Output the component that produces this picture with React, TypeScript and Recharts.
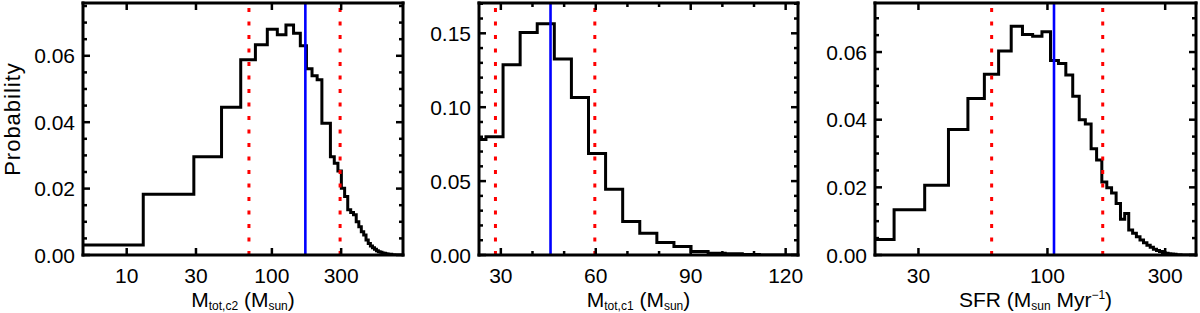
import React from 'react';
import { ComposedChart, Line, XAxis, YAxis, ReferenceLine } from 'recharts';

const FONT = '"Liberation Sans", Arial, Helvetica, sans-serif';

// ---------------- Panel 1: M_tot,c2 ----------------
const p1Edges = [-3, 13, 29, 45, 61, 77, 93, 109, 125, 141, 157, 173, 189, 205, 221, 237, 253, 269, 285, 301, 317, 333, 349, 365, 381, 397, 413, 429, 445, 461, 477, 493, 509, 525, 541, 557, 573, 589, 605, 621, 637, 653, 669, 685, 701, 717, 733, 749, 765, 781, 797, 813];
const p1Prob = [0.0030, 0.0183, 0.0296, 0.0445, 0.0588, 0.0633, 0.0680, 0.0663, 0.0693, 0.0668,
  0.0630, 0.0561, 0.0540, 0.0528, 0.0397, 0.0397, 0.0296, 0.0276, 0.0253, 0.0201,
  0.0176, 0.0136, 0.0128, 0.0121, 0.0100, 0.0085, 0.0070, 0.0060, 0.0045, 0.0035,
  0.0027, 0.0022, 0.0017, 0.0013, 0.0010, 0.0008, 0.0006, 0.0005, 0.0004, 0.0003,
  0.0002, 0.0002, 0.0001, 0.0001, 0, 0, 0, 0, 0, 0, 0];
const p1XDomain = [5, 800];
const p1YDomain = [0, 0.0759];
const p1XTicks = [10, 30, 100, 300];
const p1YMajor = [0, 0.02, 0.04, 0.06];
const p1YMinor = [0.005, 0.01, 0.015, 0.025, 0.03, 0.035, 0.045, 0.05, 0.055, 0.065, 0.07, 0.075];
const p1Bounds = [69.5, 295];
const p1Median = [170];

// ---------------- Panel 2: M_tot,c1 ----------------
const p2Edges = [19.9, 25.3, 30.7, 36.1, 41.5, 46.9, 52.3, 57.7, 63.1, 68.5, 73.9, 79.3, 84.7, 90.1, 95.5, 100.9, 106.3, 111.7, 117.1, 122.5, 127.9];
const p2Prob = [0.0782, 0.0800, 0.1287, 0.1505, 0.1564, 0.1326, 0.1065, 0.0687, 0.0445, 0.0227,
  0.0147, 0.0084, 0.0057, 0.0023, 0.0011, 0.0008, 0.0004, 0, 0, 0];
const p2XDomain = [23.1, 123.9];
const p2YDomain = [0, 0.1705];
const p2XMajor = [30, 60, 90, 120];
const p2XMinor = [40, 50, 70, 80, 100, 110];
const p2YMajor = [0, 0.05, 0.1, 0.15];
const p2YMinor = [0.01, 0.02, 0.03, 0.04, 0.06, 0.07, 0.08, 0.09, 0.11, 0.12, 0.13, 0.14, 0.16, 0.17];
const p2Bounds = [28.3, 59.7];
const p2Median = [45.7];

// ---------------- Panel 3: SFR ----------------
const p3Edges = [16.0, 23.9, 31.8, 39.7, 47.6, 55.5, 63.4, 71.3, 79.2, 87.1, 95.0, 102.9, 110.8, 118.7, 126.6, 134.5, 142.4, 150.3, 158.2, 166.1, 174.0, 181.9, 189.8, 197.7, 205.6, 213.5, 221.4, 229.3, 237.2, 245.1, 253.0, 260.9, 268.8, 276.7, 284.6, 292.5, 300.4, 308.3, 316.2, 324.1, 332.0, 339.9, 347.8, 355.7, 363.6, 371.5, 379.4, 387.3, 395.2, 403.1];
const p3Prob = [0.0046, 0.0134, 0.0206, 0.0371, 0.0463, 0.0534, 0.0603, 0.0676, 0.0652, 0.0647,
  0.0660, 0.0575, 0.0566, 0.0532, 0.0469, 0.0400, 0.0387, 0.0314, 0.0281, 0.0216,
  0.0199, 0.0183, 0.0152, 0.0106, 0.0123, 0.0074, 0.0064, 0.0054, 0.0044, 0.0036,
  0.0029, 0.0023, 0.0017, 0.0013, 0.0010, 0.0007, 0.0005, 0.0004, 0.0003, 0.0002,
  0.0001, 0.0001, 0, 0, 0, 0, 0, 0, 0];
const p3XDomain = [20, 400];
const p3YDomain = [0, 0.0745];
const p3XTicks = [30, 100, 300];
const p3YMajor = [0, 0.02, 0.04, 0.06];
const p3YMinor = [0.005, 0.01, 0.015, 0.025, 0.03, 0.035, 0.045, 0.05, 0.055, 0.065, 0.07];
const p3Bounds = [59.4, 167.5];
const p3Median = [106.3];

// --------------------------------------------------
const TICK_MAJOR = 7;
const TICK_MINOR = 4;
const LABEL_SIZE = 21;
const PLOT_TOP = 3;
const PLOT_BOTTOM = 255;

function stepData(edges: number[], prob: number[], dom: number[]) {
  const clamp = (v: number) => Math.min(dom[1], Math.max(dom[0], v));
  const pts = prob.map((p, i) => ({ x: clamp(edges[i]), y: p }));
  pts.push({ x: clamp(edges[prob.length]), y: prob[prob.length - 1] });
  return pts;
}

// bottom axis tick: draws the inward tick on the bottom edge and its twin on the top edge
function makeXTick(majors: number[], plotH: number) {
  return (props: any) => {
    const x = Number(props.x);
    const y = Number(props.y);
    const v = props.payload.value;
    const major = majors.some((m) => Math.abs(m - v) < 1e-9);
    const len = major ? TICK_MAJOR : TICK_MINOR;
    const yt = y - plotH;
    return (
      <g>
        <line x1={x} y1={y} x2={x} y2={y - len} stroke="#000" strokeWidth={2.5} />
        <line x1={x} y1={yt} x2={x} y2={yt + len} stroke="#000" strokeWidth={2.5} />
        {major ? (
          <text x={x} y={y + 28} textAnchor="middle" fontSize={LABEL_SIZE} fontFamily={FONT} fill="#000">
            {String(v)}
          </text>
        ) : null}
      </g>
    );
  };
}

// left axis tick: draws the inward tick on the left edge and its twin on the right edge
function makeYTick(majors: number[], plotW: number) {
  return (props: any) => {
    const x = Number(props.x);
    const y = Number(props.y);
    const v = props.payload.value;
    const major = majors.some((m) => Math.abs(m - v) < 1e-9);
    const len = major ? TICK_MAJOR : TICK_MINOR;
    const xr = x + plotW;
    return (
      <g>
        <line x1={x} y1={y} x2={x + len} y2={y} stroke="#000" strokeWidth={2.5} />
        <line x1={xr} y1={y} x2={xr - len} y2={y} stroke="#000" strokeWidth={2.5} />
        {major ? (
          <text x={x - 8} y={y + 7.5} textAnchor="end" fontSize={LABEL_SIZE} fontFamily={FONT} fill="#000">
            {v.toFixed(2)}
          </text>
        ) : null}
      </g>
    );
  };
}

const axisLine = { stroke: '#000', strokeWidth: 3, strokeLinecap: 'square' as const };

type PanelProps = {
  left: number;
  width: number;
  plotLeft: number;
  plotRight: number;
  edges: number[];
  prob: number[];
  xScale: 'log' | 'linear';
  xDomain: number[];
  xMajor: number[];
  xMinor: number[];
  yDomain: number[];
  yMajor: number[];
  yMinor: number[];
  bounds: number[];
  median: number[];
  title: (cx: number, by: number) => any;
};

function Panel(p: PanelProps) {
  const data = stepData(p.edges, p.prob, p.xDomain);
  const xTicks = [...p.xMajor, ...p.xMinor].sort((a, b) => a - b);
  const yTicks = [...p.yMajor, ...p.yMinor].sort((a, b) => a - b);
  const yAxisW = p.plotLeft - p.left;
  const marginRight = p.left + p.width - p.plotRight - 1;
  const cx = (p.plotLeft + p.plotRight) / 2 - p.left;
  const plotW = p.plotRight - p.plotLeft;
  const plotH = PLOT_BOTTOM - PLOT_TOP;
  return (
    <div style={{ position: 'absolute', left: p.left, top: 0, width: p.width, height: 313 }}>
      <ComposedChart width={p.width} height={313} data={data} margin={{ top: PLOT_TOP - 1, right: marginRight, bottom: 0, left: 0 }}>
        <XAxis
          xAxisId="b"
          dataKey="x"
          type="number"
          scale={p.xScale}
          domain={p.xDomain}
          allowDataOverflow
          ticks={xTicks}
          interval={0}
          height={313 - PLOT_BOTTOM}
          tickSize={0}
          tickMargin={0}
          tickLine={false}
          axisLine={axisLine}
          tick={makeXTick(p.xMajor, plotH)}
          label={() => p.title(cx, 307)}
        />
        <XAxis
          xAxisId="t"
          orientation="top"
          dataKey="x"
          type="number"
          scale={p.xScale}
          domain={p.xDomain}
          allowDataOverflow
          ticks={p.xMajor}
          height={1}
          tickLine={false}
          tick={false}
          axisLine={axisLine}
        />
        <YAxis
          yAxisId="l"
          type="number"
          domain={p.yDomain}
          allowDataOverflow
          ticks={yTicks}
          interval={0}
          width={yAxisW}
          tickSize={0}
          tickMargin={0}
          tickLine={false}
          axisLine={axisLine}
          tick={makeYTick(p.yMajor, plotW)}
        />
        <YAxis
          yAxisId="r"
          orientation="right"
          type="number"
          domain={p.yDomain}
          allowDataOverflow
          ticks={p.yMajor}
          width={1}
          tickLine={false}
          tick={false}
          axisLine={axisLine}
        />
        <Line
          xAxisId="b"
          yAxisId="l"
          type="stepAfter"
          dataKey="y"
          stroke="#000"
          strokeWidth={3}
          dot={false}
          activeDot={false}
          isAnimationActive={false}
          strokeLinejoin="miter"
        />
        {p.bounds.map((v, i) => (
          <ReferenceLine key={'b' + i} xAxisId="b" yAxisId="l" x={v} stroke="#ff0000" strokeWidth={3} strokeDasharray="4 9.5" />
        ))}
        {p.median.map((v, i) => (
          <ReferenceLine key={'m' + i} xAxisId="b" yAxisId="l" x={v} stroke="#0000ff" strokeWidth={2.6} />
        ))}
      </ComposedChart>
    </div>
  );
}

const SUB = 12;

const title1 = (cx: number, by: number) => (
  <text x={cx} y={by} textAnchor="middle" fontSize={LABEL_SIZE} fontFamily={FONT} fill="#000">
    <tspan>M</tspan>
    <tspan fontSize={SUB} dy={3}>tot,c2</tspan>
    <tspan dy={-3}> (M</tspan>
    <tspan fontSize={SUB} dy={3}>sun</tspan>
    <tspan dy={-3}>)</tspan>
  </text>
);

const title2 = (cx: number, by: number) => (
  <text x={cx} y={by} textAnchor="middle" fontSize={LABEL_SIZE} fontFamily={FONT} fill="#000">
    <tspan>M</tspan>
    <tspan fontSize={SUB} dy={3}>tot,c1</tspan>
    <tspan dy={-3}> (M</tspan>
    <tspan fontSize={SUB} dy={3}>sun</tspan>
    <tspan dy={-3}>)</tspan>
  </text>
);

const title3 = (cx: number, by: number) => (
  <text x={cx} y={by} textAnchor="middle" fontSize={LABEL_SIZE} fontFamily={FONT} fill="#000">
    <tspan>SFR (M</tspan>
    <tspan fontSize={SUB} dy={3}>sun</tspan>
    <tspan dy={-3}> Myr</tspan>
    <tspan fontSize={SUB} dy={-8}>−1</tspan>
    <tspan dy={8}>)</tspan>
  </text>
);

export default function App() {
  return (
    <div style={{ position: 'absolute', left: 0, top: 0, width: 1200, height: 313, background: '#fff', overflow: 'hidden' }}>
      <Panel
        left={0}
        width={410}
        plotLeft={83}
        plotRight={403}
        edges={p1Edges}
        prob={p1Prob}
        xScale="log"
        xDomain={p1XDomain}
        xMajor={p1XTicks}
        xMinor={[]}
        yDomain={p1YDomain}
        yMajor={p1YMajor}
        yMinor={p1YMinor}
        bounds={p1Bounds}
        median={p1Median}
        title={title1}
      />
      <Panel
        left={410}
        width={395}
        plotLeft={479}
        plotRight={798}
        edges={p2Edges}
        prob={p2Prob}
        xScale="linear"
        xDomain={p2XDomain}
        xMajor={p2XMajor}
        xMinor={p2XMinor}
        yDomain={p2YDomain}
        yMajor={p2YMajor}
        yMinor={p2YMinor}
        bounds={p2Bounds}
        median={p2Median}
        title={title2}
      />
      <Panel
        left={805}
        width={395}
        plotLeft={875}
        plotRight={1196}
        edges={p3Edges}
        prob={p3Prob}
        xScale="log"
        xDomain={p3XDomain}
        xMajor={p3XTicks}
        xMinor={[]}
        yDomain={p3YDomain}
        yMajor={p3YMajor}
        yMinor={p3YMinor}
        bounds={p3Bounds}
        median={p3Median}
        title={title3}
      />
      <svg width={40} height={313} style={{ position: 'absolute', left: 0, top: 0 }}>
        <text x={0} y={0} transform="translate(19.5,119) rotate(-90)" textAnchor="middle" fontSize={22} fontFamily={FONT} fill="#000" letterSpacing={1}>
          Probability
        </text>
      </svg>
    </div>
  );
}
